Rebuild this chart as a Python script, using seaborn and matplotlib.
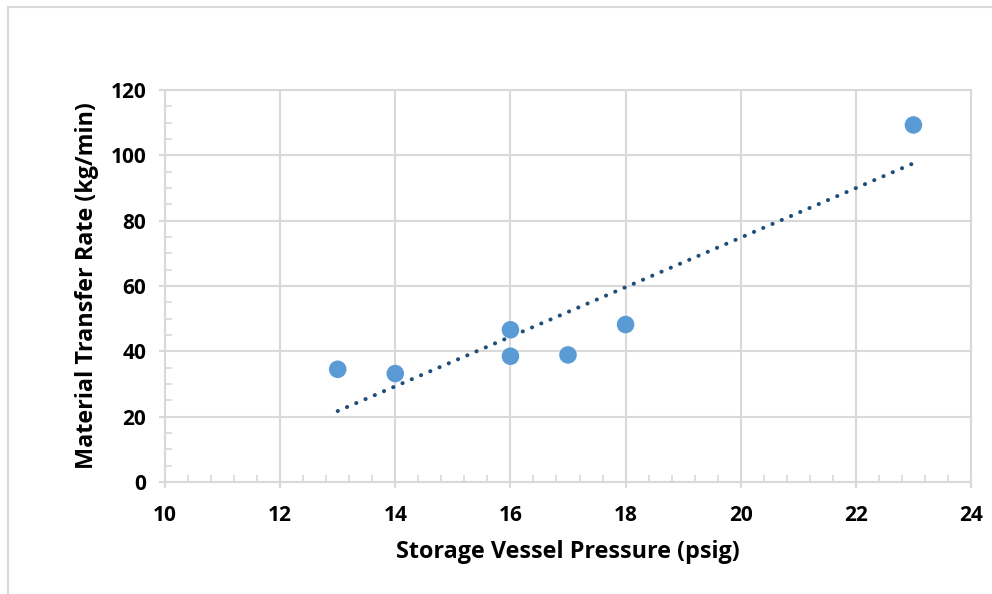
import numpy as np
import pandas as pd
import matplotlib
matplotlib.use("Agg")
import matplotlib.pyplot as plt
import seaborn as sns
from matplotlib.patches import Rectangle
from matplotlib.ticker import MultipleLocator

# Measured transfer rates at each storage vessel pressure
pressure_psig = [13, 14, 16, 16, 17, 18, 23]
transfer_rate = [34.5, 33.2, 46.6, 38.5, 38.9, 48.2, 109.3]

x_ticks = [10, 12, 14, 16, 18, 20, 22, 24]
y_ticks = [0, 20, 40, 60, 80, 100, 120]

df = pd.DataFrame({"pressure": pressure_psig, "rate": transfer_rate})

sns.set_theme(style="white")
plt.rcParams["font.family"] = ["Open Sans", "DejaVu Sans"]
plt.rcParams["text.color"] = "black"
plt.rcParams["axes.labelcolor"] = "black"
plt.rcParams["xtick.labelcolor"] = "black"
plt.rcParams["ytick.labelcolor"] = "black"

fig = plt.figure(figsize=(9.92, 5.94), dpi=100)
ax = fig.add_axes([165 / 992, 112 / 594, 806 / 992, 392 / 594])

grid_c = "#D9D9D9"

# Linear trendline fitted to the measurements
slope, intercept = np.polyfit(df["pressure"], df["rate"], 1)
xs = np.array([df["pressure"].min(), df["pressure"].max()])
ax.plot(xs, slope * xs + intercept, color="#1F4E79", lw=2.9,
        linestyle=(0, (0.05, 2.45)), dash_capstyle="round", zorder=2)

sns.scatterplot(data=df, x="pressure", y="rate", ax=ax, s=160,
                color="#5B9BD5", edgecolor="none", zorder=3)

ax.set_xlim(10, 24)
ax.set_ylim(0, 120)
ax.set_xticks(x_ticks)
ax.set_yticks(y_ticks)
ax.xaxis.set_minor_locator(MultipleLocator(0.4))
ax.yaxis.set_minor_locator(MultipleLocator(5))
ax.grid(True, which="major", color=grid_c, lw=1.5)
ax.set_axisbelow(True)

for side in ["top", "right", "left", "bottom"]:
    ax.spines[side].set_color(grid_c)
    ax.spines[side].set_linewidth(1.5)

ax.tick_params(which="major", direction="inout", length=9, width=1.5,
               color=grid_c, labelsize=15, labelcolor="black")
ax.tick_params(which="minor", direction="in", length=5, width=1.2,
               color=grid_c)
ax.tick_params(axis="both", which="both", bottom=True, left=True)
for lbl in ax.get_xticklabels() + ax.get_yticklabels():
    lbl.set_fontweight("bold")
ax.tick_params(axis="x", pad=12)
ax.tick_params(axis="y", pad=9)

ax.set_xlabel("Storage Vessel Pressure (psig)", fontsize=16.8,
              fontweight="bold", labelpad=10, color="black")
ax.set_ylabel("Material Transfer Rate (kg/min)", fontsize=16.8,
              fontweight="bold", labelpad=8, color="black")

# Light frame around the chart area
fig.patches.append(Rectangle((8 / 992, -0.01), 1.0, (594 - 7) / 594 + 0.01,
                             transform=fig.transFigure, fill=False,
                             edgecolor="#D9D9D9", lw=1.5))

fig.savefig("out.png", dpi=100)
